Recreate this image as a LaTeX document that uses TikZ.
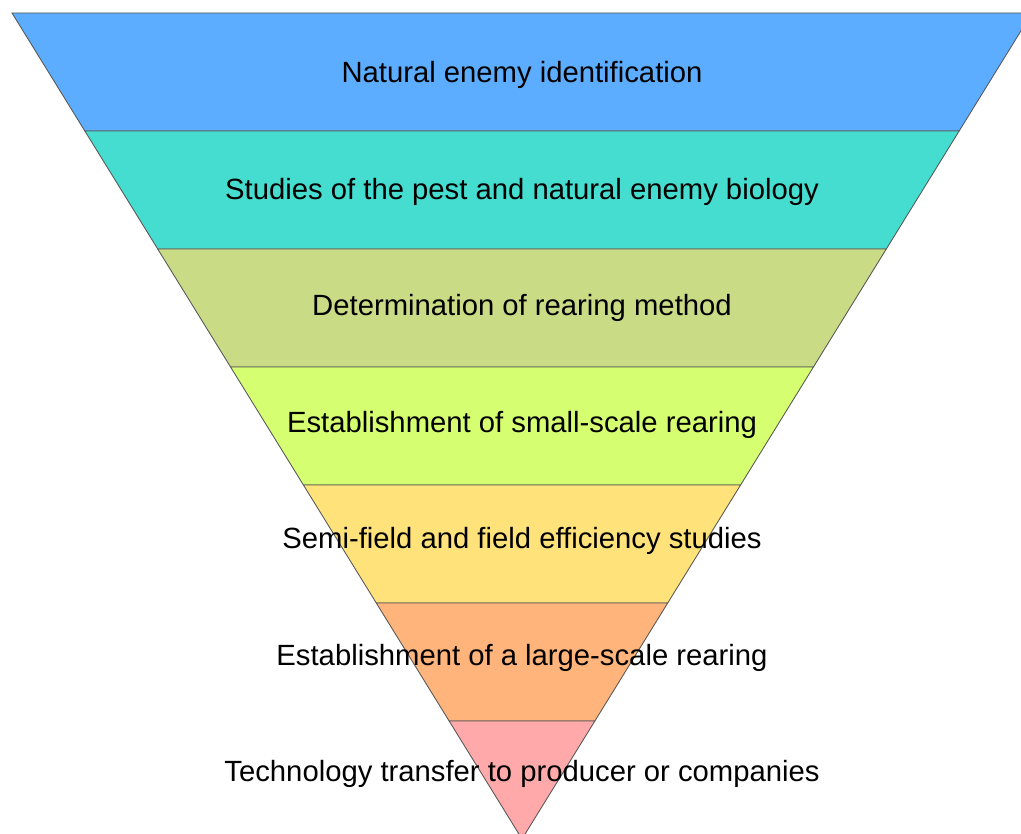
\documentclass[tikz,border=0pt]{standalone}
\usepackage{fontspec}
\setmainfont{Liberation Sans}
\usepackage{tikz}
\definecolor{levelA}{HTML}{5CADFF}
\definecolor{levelB}{HTML}{45DDD0}
\definecolor{levelC}{HTML}{C9DB85}
\definecolor{levelD}{HTML}{D5FF71}
\definecolor{levelE}{HTML}{FFE37A}
\definecolor{levelF}{HTML}{FFB47B}
\definecolor{levelG}{HTML}{FFA9AA}
\tikzstyle{band} = [draw=black!65, line width=0.5pt, line join=miter]
\tikzstyle{caption} = [inner sep=0pt, anchor=base, font=\fontsize{16.65}{19}\selectfont]

\begin{document}
\begin{tikzpicture}[x=0.02cm, y=-0.02cm]
				\useasboundingbox (0,0) rectangle (1021,834);
				% Draw bands
				\foreach \i/\col in {0/levelA, 1/levelB, 2/levelC, 3/levelD, 4/levelE, 5/levelF, 6/levelG} {
					\pgfmathsetmacro\ya{13+118*\i}
					\pgfmathsetmacro\yb{13+118*(\i+1)}
					\pgfmathsetmacro\wa{510*(1-\i/7)}
					\pgfmathsetmacro\wb{510*(1-(\i+1)/7)}
					\path [band, fill=\col] (522-\wa,\ya) -- (522+\wa,\ya) -- (522+\wb,\yb) -- (522-\wb,\yb) -- cycle;
				}
				% Place nodes
				\foreach \i/\txt in {0/{Natural enemy identification},
					1/{Studies of the pest and natural enemy biology},
					2/{Determination of rearing method},
					3/{Establishment of small-scale rearing},
					4/{Semi-field and field efficiency studies},
					5/{Establishment of a large-scale rearing},
					6/{Technology transfer to producer or companies}} {
					\node [caption] (stage\i) at (522, 83+116.4*\i) {\txt};
				}
				\end{tikzpicture}
\end{document}
